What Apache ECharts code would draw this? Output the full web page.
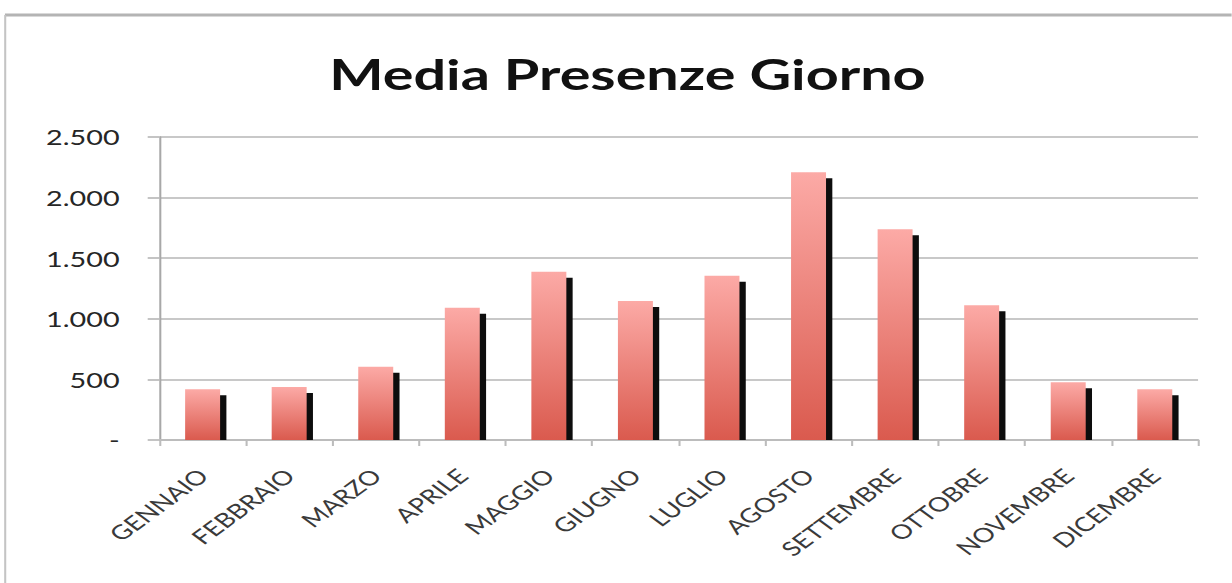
<!DOCTYPE html>
<html>
<head>
<meta charset="utf-8">
<script src="https://cdn.jsdelivr.net/npm/echarts@6/dist/echarts.min.js"></script>
<style>
  html, body { margin: 0; padding: 0; background: #ffffff; overflow: hidden; }
  #wrap { width: 1232px; height: 583px; overflow: hidden; position: relative; }
  #chart { position: absolute; left: 0; top: 0; height: 583px; transform-origin: 0 0; }
</style>
</head>
<body>
<div id="wrap"><div id="chart"></div></div>
<script>
// ---- data ----
const titleText = 'Media Presenze Giorno';
const months = ['GENNAIO', 'FEBBRAIO', 'MARZO', 'APRILE', 'MAGGIO', 'GIUGNO',
                'LUGLIO', 'AGOSTO', 'SETTEMBRE', 'OTTOBRE', 'NOVEMBRE', 'DICEMBRE'];
const presenze = [418, 437, 605, 1092, 1389, 1147, 1356, 2209, 1738, 1111, 476, 418];
const yTickValues = [0, 500, 1000, 1500, 2000, 2500];
const yTickLabels = ['-', '500', '1.000', '1.500', '2.000', '2.500'];

// the reference picture is horizontally stretched
const STRETCH = 1.37;
const W = 1232 / STRETCH;
const el = document.getElementById('chart');
el.style.width = W + 'px';
el.style.transform = 'scaleX(' + STRETCH + ')';

const chart = echarts.init(el, null, { renderer: 'svg', width: W, height: 583 });

const seriesData = months.map((m, i) => [i, presenze[i]]);

const option = {
  backgroundColor: '#ffffff',
  animation: false,
  title: {
    text: titleText,
    left: 453,
    textAlign: 'center',
    top: 48,
    textStyle: { fontFamily: 'Lato', fontWeight: 'bold', fontSize: 42, color: '#111111' }
  },
  graphic: [
    { type: 'line', shape: { x1: 3.6, y1: 15, x2: W + 10, y2: 15 }, style: { stroke: '#b4b4b4', lineWidth: 3 }, silent: true },
    { type: 'line', shape: { x1: 3.8, y1: 15, x2: 3.8, y2: 600 }, style: { stroke: '#c4c4c4', lineWidth: 1.5 }, silent: true }
  ],
  grid: { left: 116.3, right: W - 874.5, top: 137, bottom: 143, containLabel: false },
  xAxis: {
    type: 'category',
    data: months,
    boundaryGap: true,
    axisLine: { show: true, lineStyle: { color: '#bcbcbc', width: 2 } },
    axisTick: { show: true, alignWithLabel: false, length: 6, lineStyle: { color: '#bcbcbc', width: 1.5 } },
    axisLabel: {
      interval: 0, rotate: 45, margin: 32,
      fontFamily: 'Lato', fontSize: 20, color: '#3a3a3a'
    }
  },
  yAxis: {
    type: 'value',
    min: 0, max: 2500, interval: 500,
    axisLine: { show: true, lineStyle: { color: '#a8a8a8', width: 1.5 } },
    axisTick: { show: true, length: 8.5, lineStyle: { color: '#c4c4c4', width: 2 } },
    splitLine: { show: true, lineStyle: { color: '#c8c8c8', width: 2 } },
    axisLabel: {
      margin: 29, fontFamily: 'Lato', fontSize: 21, color: '#262626',
      formatter: function (v) {
        const k = yTickValues.indexOf(v);
        return k >= 0 ? yTickLabels[k] : '';
      }
    }
  },
  series: [{
    type: 'custom',
    encode: { x: 0, y: 1 },
    data: seriesData,
    z: 3,
    renderItem: function (params, api) {
      const idx = api.value(0);
      const top = api.coord([idx, api.value(1)]);
      const base = api.coord([idx, 0]);
      const bw = api.size([1, 0])[0] * 0.404;
      const left = top[0] - bw / 2;
      const dx = 4.6, dy = 6;
      return {
        type: 'group',
        children: [
          {
            type: 'rect',
            shape: { x: left + dx, y: top[1] + dy, width: bw, height: base[1] - top[1] - dy },
            style: { fill: '#0d0d0d' }
          },
          {
            type: 'rect',
            shape: { x: left, y: top[1], width: bw, height: base[1] - top[1] },
            style: {
              fill: new echarts.graphic.LinearGradient(0, 0, 0, 1, [
                { offset: 0, color: '#fcaaa6' },
                { offset: 1, color: '#da5a4e' }
              ])
            }
          }
        ]
      };
    }
  }]
};
chart.setOption(option);
</script>
</body>
</html>
